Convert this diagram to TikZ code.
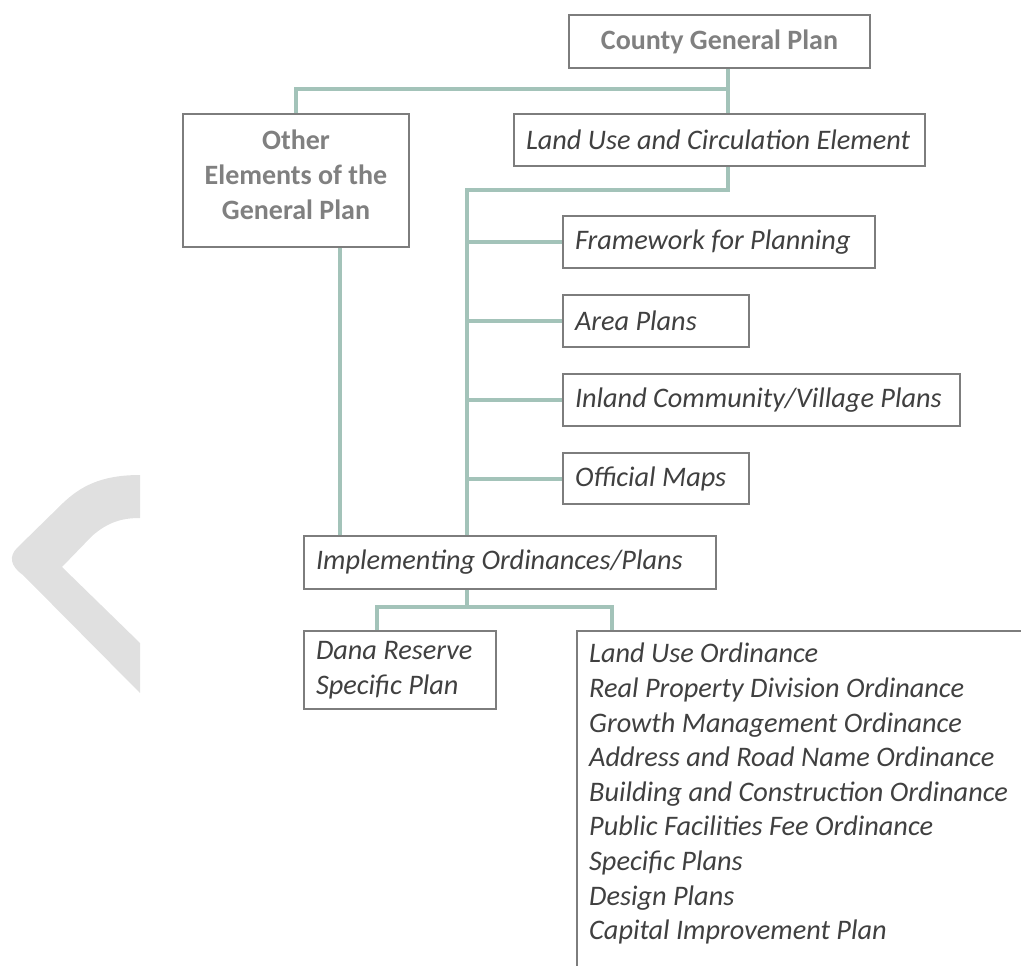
\documentclass[tikz,border=0pt]{standalone}
\usepackage{fontspec}
\setmainfont{Carlito}
\usetikzlibrary{calc}
\definecolor{linkgreen}{RGB}{163,195,185}
\definecolor{boxgrey}{RGB}{125,125,125}
\definecolor{headgrey}{RGB}{128,128,128}
\definecolor{textdark}{RGB}{64,64,64}
\definecolor{chevron}{RGB}{224,224,224}
\begin{document}
\begin{tikzpicture}[x=1pt,y=-1pt,
  link/.style={draw=linkgreen,line width=4pt},
  box/.style={draw=boxgrey,line width=2pt,fill=white,anchor=north west,
    inner xsep=12pt,inner ysep=0pt,align=flush left,text=textdark,
    font=\itshape\fontsize{28.3}{35}\selectfont},
  headbox/.style={box,align=flush center,text=headgrey,
    font=\bfseries\fontsize{28}{35}\selectfont}]
\useasboundingbox (0,0) rectangle (1021,966);
\clip (0,0) rectangle (1021,966);

% grey chevron at the left margin
\fill[chevron] (140,475) .. controls (100,475) and (80,487) .. (63,503)
  -- (17,548) .. controls (9,556) and (10,566) .. (23,575)
  -- (140,693) -- (140,643) -- (62,567) -- (92,536)
  .. controls (108,522) and (122,518) .. (140,518) -- cycle;

% helper coordinates for the vertical trunks
\coordinate (trunkA) at (728,0);
\coordinate (trunkB) at (467,0);
\coordinate (trunkC) at (340,0);

% boxes
\node[headbox,text width=277pt,minimum height=53pt] (county) at (568,14) {County General Plan};
\node[box,text width=387pt,minimum height=52pt] (lu) at (513,113) {Land Use and Circulation Element};
\node[headbox,text width=202pt,minimum height=133pt] (other) at (182,113) {Other\\Elements of the\\General Plan\rule[-12pt]{0pt}{0pt}};
\node[box,text width=288pt,minimum height=52pt] (fw) at (562,215) {Framework for Planning};
\node[box,text width=162pt,minimum height=52pt] (area) at (562,294) {Area Plans};
\node[box,text width=373pt,minimum height=52pt] (inland) at (562,373) {Inland Community/Village Plans};
\node[box,text width=162pt,minimum height=51pt] (maps) at (562,452) {Official Maps};
\node[box,text width=388pt,minimum height=53pt] (impl) at (303,535) {Implementing Ordinances/Plans};
\node[box,text width=168pt,minimum height=78pt] (dana) at (303,630) {Dana Reserve\\Specific Plan};
\node[box,minimum width=460pt,minimum height=380pt] (ords) at (576,630) {};
\node[anchor=north west,inner sep=0pt,align=flush left,text=textdark,
  font=\itshape\fontsize{28.3}{34.6}\selectfont]
  (ordlist) at ([xshift=13pt,yshift=-13pt]ords.north west)
  {Land Use Ordinance\\Real Property Division Ordinance\\Growth Management Ordinance\\
   Address and Road Name Ordinance\\Building and Construction Ordinance\\
   Public Facilities Fee Ordinance\\Specific Plans\\Design Plans\\Capital Improvement Plan};

% connectors
\draw[link] (county.south -| trunkA) -- (lu.north -| trunkA);
\draw[link] ($(county.south -| trunkA)+(0,20)$) coordinate (j1) -| (other.north);
\draw[link] (lu.south -| trunkA) -- ++(0,23) coordinate (j2) -| (impl.north -| trunkB);
\foreach \b in {fw,area,inland,maps}
  \draw[link] (\b.west -| trunkB) -- (\b.west);
\draw[link] (other.south -| trunkC) -- (impl.north -| trunkC);
\draw[link] (impl.south -| trunkB) -- ++(0,17) coordinate (j3);
\draw[link] ($(dana.north west)+(74,0)$) |- (j3) -| ($(ords.north west)+(36,0)$);
\end{tikzpicture}
\end{document}
